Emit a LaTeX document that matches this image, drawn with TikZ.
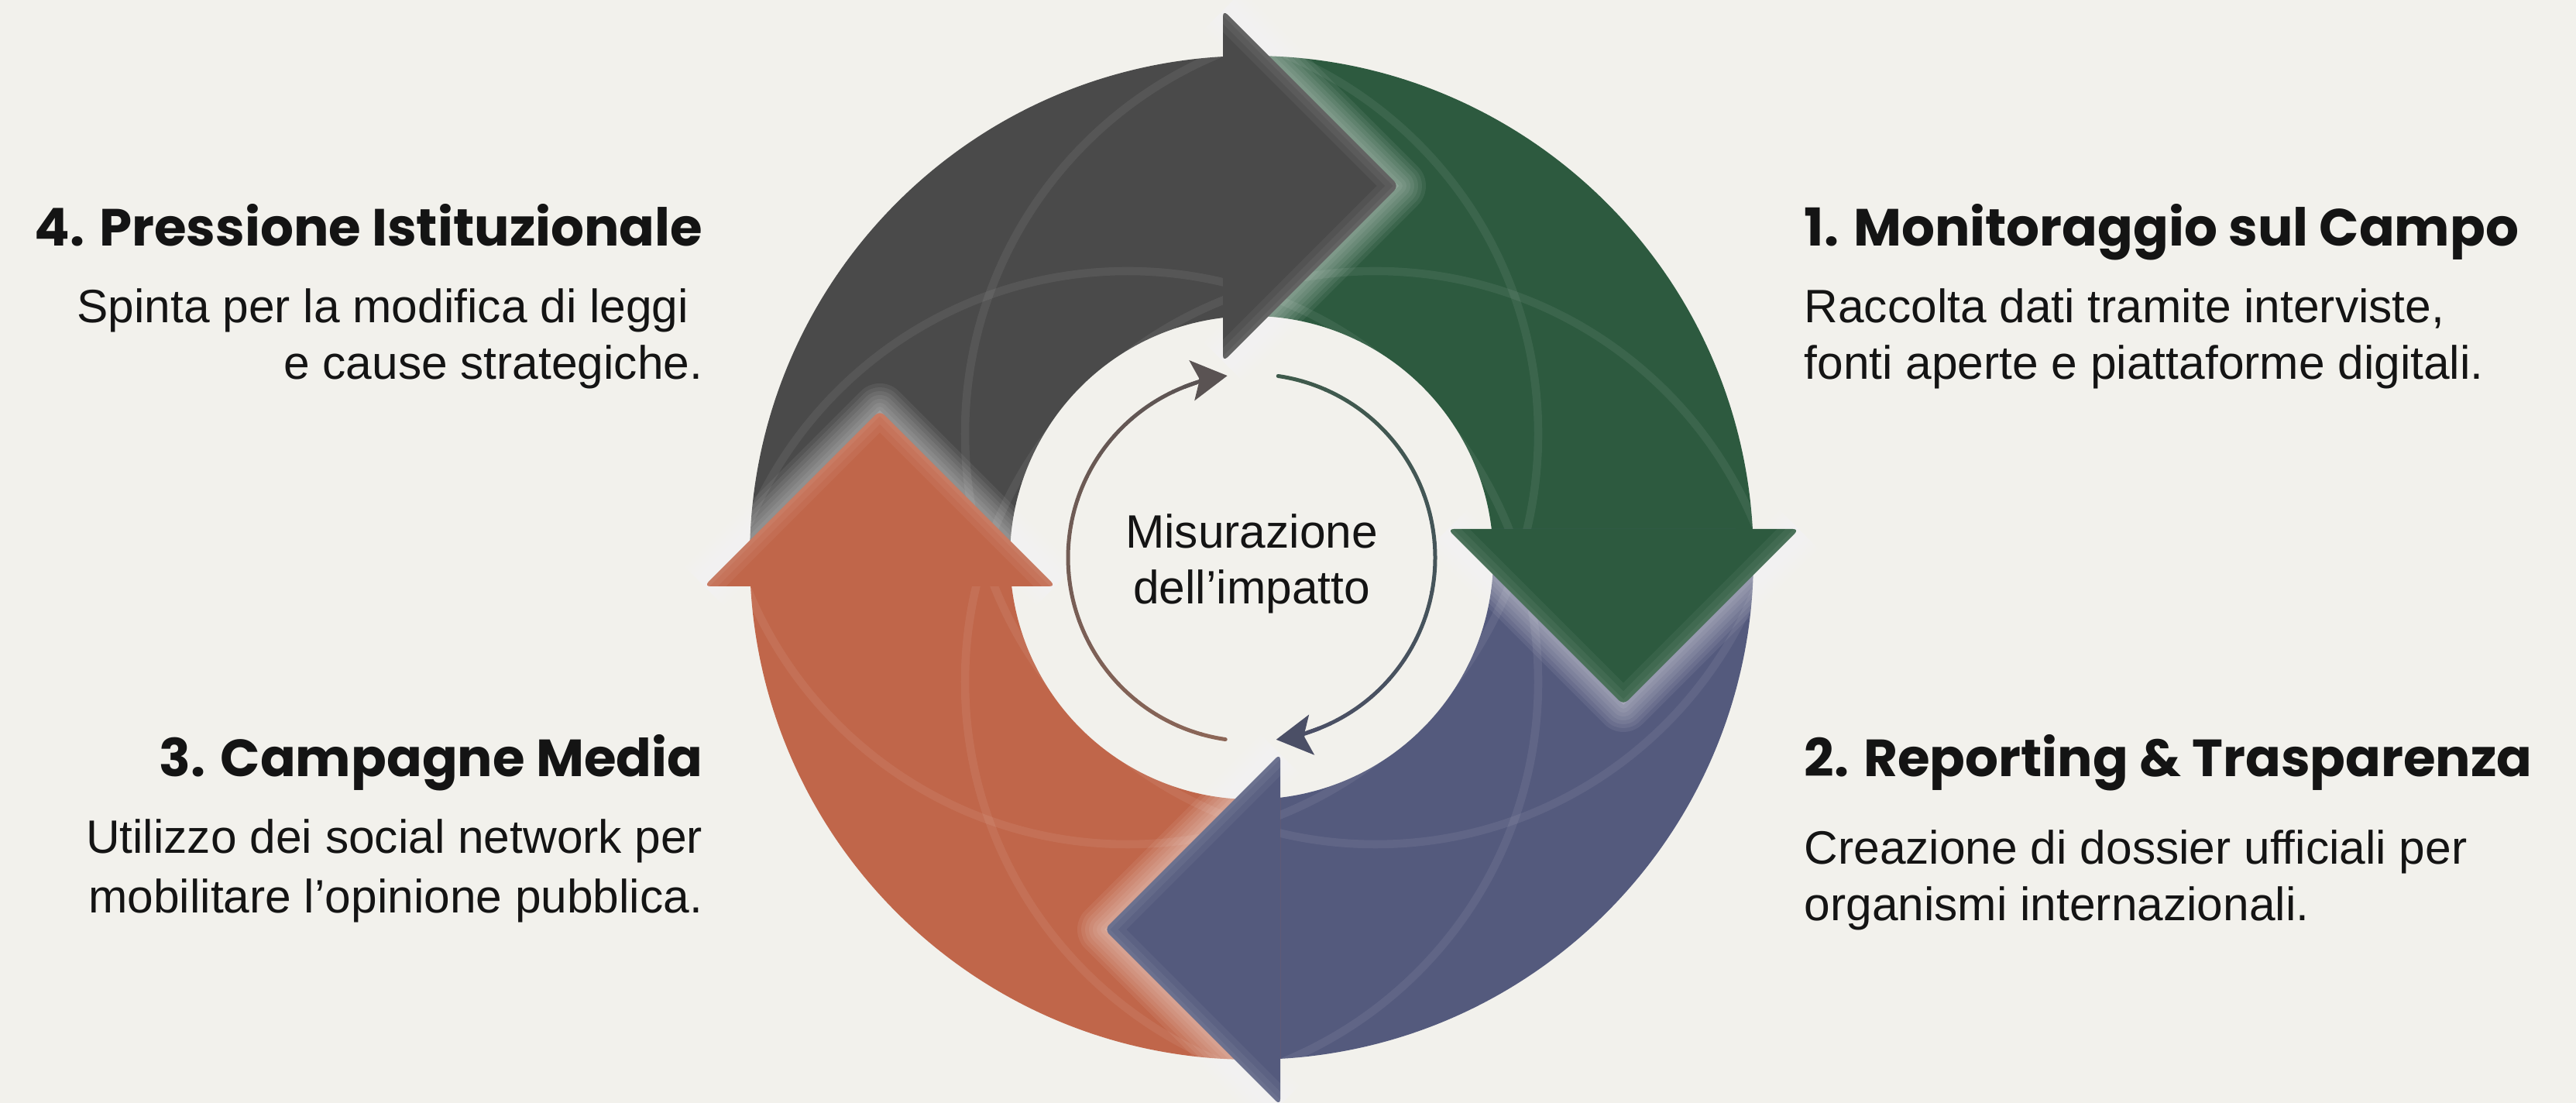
\documentclass[tikz,border=0pt]{standalone}
\usepackage{fontspec}
\setmainfont{Liberation Sans}
\newfontfamily\headfont{Poppins}
\usepackage{xcolor}
\usepackage{tikz}
\usetikzlibrary{arrows.meta, positioning, calc}

\definecolor{bgpaper}{HTML}{F2F1EC}
\definecolor{inkblack}{HTML}{141414}
\definecolor{ringgray}{HTML}{4A4A4A}
\definecolor{ringgreen}{HTML}{2D5A3F}
\definecolor{ringblue}{HTML}{545A7D}
\definecolor{ringorange}{HTML}{C0664A}
\definecolor{loopbrown}{HTML}{8C6657}
\definecolor{loopgray}{HTML}{5A5353}
\definecolor{loopgreen}{HTML}{3E5A4B}
\definecolor{loopslate}{HTML}{4B4F66}

\begin{document}
\begin{tikzpicture}[
        heading/.style={font=\headfont\bfseries\fontsize{19.2}{23}\selectfont, text=inkblack, inner sep=0pt},
        desc/.style={font=\fontsize{17.2}{20.5}\selectfont, text=inkblack, inner sep=0pt},
        loopline/.style={line width=0.05cm, line cap=round},
        looptip/.style={-{Stealth[length=0.46cm, width=0.52cm, inset=0.1cm]}}
    ]
        \useasboundingbox[fill=bgpaper] (0,0) rectangle (33.26,14.24);
        \coordinate (hub) at (16.16,7.04);

        \pgfmathsetmacro\dd{0.37}
        \pgfmathsetmacro\Rout{6.48}
        \pgfmathsetmacro\Rin{3.12}
        \pgfmathsetmacro\ao{90+asin(\dd/\Rout)}
        \pgfmathsetmacro\ai{90+asin(\dd/\Rin)}

        % Ring bodies
        \foreach \rot/\col in {0/ringgray, -90/ringgreen, -180/ringblue, 90/ringorange}{
            \begin{scope}[shift={(hub)}, rotate=\rot]
                \fill[\col] (\ao+90:\Rout) arc[start angle=\ao+90, end angle=\ao, radius=\Rout]
                    -- (\ai:\Rin) arc[start angle=\ai, end angle=\ai+90, radius=\Rin] -- cycle;
            \end{scope}
        }

        % Soft arcs inside the ring
        \begin{scope}[even odd rule]
            \clip (hub) circle[radius=\Rout] (hub) circle[radius=\Rin];
            \foreach \rot in {0,-90,-180,90}{
                \begin{scope}[shift={(hub)}, rotate=\rot]
                    \draw[white, opacity=0.07, line width=3pt] (1.6,-1.6) circle[radius=5.3];
                \end{scope}
            }
        \end{scope}

        % Arrow heads
        \foreach \rot/\col in {0/ringgray, -90/ringgreen, -180/ringblue, 90/ringorange}{
            \begin{scope}[shift={(hub)}, rotate=\rot]
                \foreach \w in {0.7,0.6,...,0.1}
                    \draw[white, opacity=0.07, line width=\w cm, line join=round]
                        (-\dd,2.53) -- (-\dd+2.27,4.80) -- (-\dd,7.07);
                \fill[\col, rounded corners=0.08cm] (-\dd,2.53) -- (-\dd+2.27,4.80) -- (-\dd,7.07) -- cycle;
                \begin{scope}
                    \clip (-\dd,2.53) -- (-\dd+2.27,4.80) -- (-\dd,7.07) -- cycle;
                    \foreach \w in {0.4,0.25,0.1}
                        \draw[white, opacity=0.05, line width=\w cm] (-\dd,2.53) -- (-\dd+2.27,4.80) -- (-\dd,7.07);
                \end{scope}
            \end{scope}
        }

        % Inner loop
        \foreach \i in {0,...,19}{
            \pgfmathsetmacro\aa{261.8-\i*7.71}
            \pgfmathsetmacro\ab{\aa-7.71}
            \pgfmathtruncatemacro\pp{100-\i*5}
            \draw[loopline, color=loopbrown!\pp!loopgray] ($(hub)+(\aa:2.37)$) arc[start angle=\aa, end angle=\ab, radius=2.37];
            \pgfmathsetmacro\ba{81.7-\i*7.70}
            \pgfmathsetmacro\bb{\ba-7.70}
            \draw[loopline, color=loopgreen!\pp!loopslate] ($(hub)+(\ba:2.37)$) arc[start angle=\ba, end angle=\bb, radius=2.37];
        }
        \draw[loopline, looptip, color=loopgray] ($(hub)+(111.6:2.37)$) arc[start angle=111.6, end angle=97.6, radius=2.37];
        \draw[loopline, looptip, color=loopslate] ($(hub)+(-68.3:2.37)$) arc[start angle=-68.3, end angle=-82.3, radius=2.37];

        % multi-line nodes sit on their last baseline
        \node[desc, align=center, anchor=base] (core) at (16.16,6.44) {Misurazione\\dell’impatto};

        % Step labels
        \node[heading, anchor=base west] (monitor) at (23.29,11.06) {1. Monitoraggio sul Campo};
        \node[desc, align=left, anchor=base west] (monitortxt) at ($(monitor.base west)+(0,-1.72)$)
            {Raccolta dati tramite interviste,\\[0.01cm]fonti aperte e piattaforme digitali.};

        \node[heading, anchor=base west] (report) at (23.29,4.21) {2. Reporting \& Trasparenza};
        \node[desc, align=left, anchor=base west] (reporttxt) at ($(report.base west)+(0,-1.86)$)
            {Creazione di dossier ufficiali per\\[0.01cm]organismi internazionali.};

        \node[heading, anchor=base east] (media) at (9.08,4.21) {3. Campagne Media};
        \node[desc, align=right, anchor=base east] (mediatxt) at ($(media.base east)+(0,-1.76)$)
            {Utilizzo dei social network per\\[0.05cm]mobilitare l’opinione pubblica.};

        \node[heading, anchor=base east] (pressure) at (9.08,11.06) {4. Pressione Istituzionale};
        \node[desc, align=right, anchor=base east] (pressuretxt) at ($(pressure.base east)+(0,-1.72)$)
            {Spinta per la modifica di leggi\kern0.3em\\[0.01cm]e cause strategiche.};
    \end{tikzpicture}
\end{document}
